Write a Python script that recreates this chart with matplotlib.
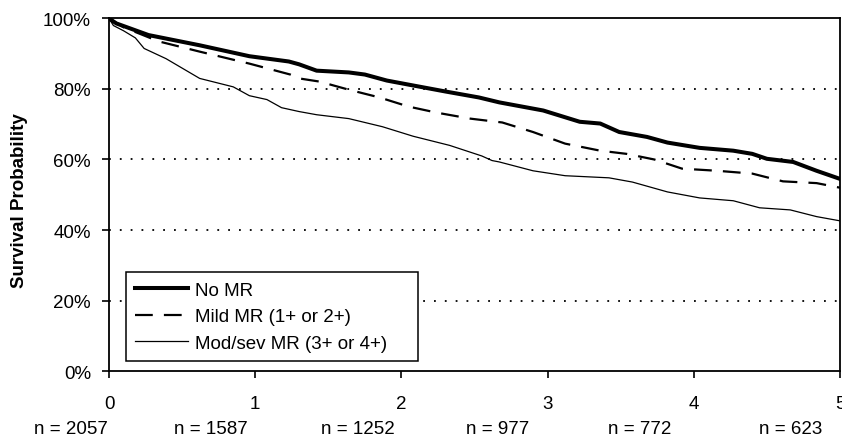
import matplotlib
matplotlib.use('Agg')
import matplotlib.pyplot as plt
from matplotlib.transforms import blended_transform_factory

plt.rcParams['font.family'] = ['Liberation Sans', 'DejaVu Sans']

# years of follow-up and survival (%)
no_mr_t = [0, 0.05, 0.27, 0.62, 0.96, 1.23, 1.3, 1.42, 1.64, 1.75, 1.9, 2.08, 2.3, 2.53,
           2.67, 2.97, 3.22, 3.36, 3.49, 3.68, 3.82, 4.04, 4.27, 4.4, 4.5, 4.68, 4.84, 5.0]
no_mr_s = [100, 98.6, 95.3, 92.4, 89.3, 87.8, 87.0, 85.2, 84.7, 84.1, 82.4, 81.0, 79.3, 77.6,
           76.2, 73.9, 70.7, 70.2, 67.8, 66.4, 64.8, 63.3, 62.5, 61.6, 60.2, 59.3, 56.8, 54.5]

mild_t = [0, 0.1, 0.34, 0.62, 0.96, 1.24, 1.3, 1.44, 1.64, 1.85, 2.05, 2.24, 2.47, 2.69,
          2.9, 3.12, 3.36, 3.54, 3.73, 3.92, 4.16, 4.4, 4.61, 4.84, 5.0]
mild_s = [100, 97.5, 93.5, 90.6, 87.2, 84.1, 83.0, 82.1, 79.8, 77.6, 75.0, 73.3, 71.6, 70.5,
          67.8, 64.5, 62.5, 61.6, 60.0, 57.4, 56.8, 56.0, 53.8, 53.3, 52.0]

modsev_t = [0, 0.03, 0.1, 0.18, 0.24, 0.39, 0.62, 0.85, 0.96, 1.08, 1.18, 1.3, 1.42, 1.64, 1.87,
            2.08, 2.33, 2.55, 2.62, 2.67, 2.9, 3.12, 3.42, 3.58, 3.82, 4.04, 4.27, 4.45,
            4.66, 4.84, 5.0]
modsev_s = [100, 98.0, 96.5, 94.5, 91.5, 88.6, 83.0, 80.6, 78.1, 77.0, 74.7, 73.6, 72.7, 71.6, 69.3,
            66.6, 64.0, 61.0, 59.7, 59.3, 56.8, 55.4, 54.8, 53.6, 50.8, 49.1, 48.3, 46.3,
            45.7, 43.8, 42.6]

at_risk = [2057, 1587, 1252, 977, 772, 623]
at_risk_x = [-0.26, 0.70, 1.70, 2.66, 3.63, 4.66]

FS = 13.5

fig = plt.figure(figsize=(8.42, 4.39), dpi=100)
ax = fig.add_axes([0.1295, 0.1526, 0.8681, 0.803])

for y in [20, 40, 60, 80]:
    ax.axhline(y, color='black', linestyle=(0, (1, 5)), linewidth=1.3, zorder=1)

ax.plot(no_mr_t, no_mr_s, color='black', linewidth=2.9, label='No MR', zorder=3)
ax.plot(mild_t, mild_s, color='black', linewidth=1.6, linestyle=(0, (8, 5)),
        label='Mild MR (1+ or 2+)', zorder=3)
ax.plot(modsev_t, modsev_s, color='black', linewidth=0.9,
        label='Mod/sev MR (3+ or 4+)', zorder=3)

ax.set_xlim(0, 5)
ax.set_ylim(0, 100)
ax.set_xticks(range(6))
ax.set_yticks([0, 20, 40, 60, 80, 100])
ax.set_yticklabels([f'{v}%' for v in [0, 20, 40, 60, 80, 100]])
ax.tick_params(axis='both', direction='out', length=5, width=1.2, labelsize=FS, colors='black')
ax.tick_params(axis='x', pad=12)
ax.tick_params(axis='y', pad=8)
for s in ax.spines.values():
    s.set_linewidth(1.3)

fig.text(20 / 842, 0.542, 'Survival Probability', rotation=90, ha='center', va='center',
         fontsize=FS, fontweight='bold')

trans = blended_transform_factory(ax.transData, fig.transFigure)
for xp, n in zip(at_risk_x, at_risk):
    ax.text(xp, 1 - 430 / 439, f'n = {n}', transform=trans, ha='center', va='center',
            fontsize=FS, clip_on=False)

leg = ax.legend(loc='lower left', bbox_to_anchor=(0.023, 0.028, 0.40, 0.25), mode='expand',
                borderaxespad=0, fontsize=FS, frameon=True, fancybox=False, framealpha=1,
                edgecolor='black', handlelength=2.8, labelspacing=0.5, borderpad=0.5,
                handletextpad=0.4)
leg.get_frame().set_linewidth(1.1)
leg.set_zorder(5)

fig.savefig('out.png', dpi=100)
